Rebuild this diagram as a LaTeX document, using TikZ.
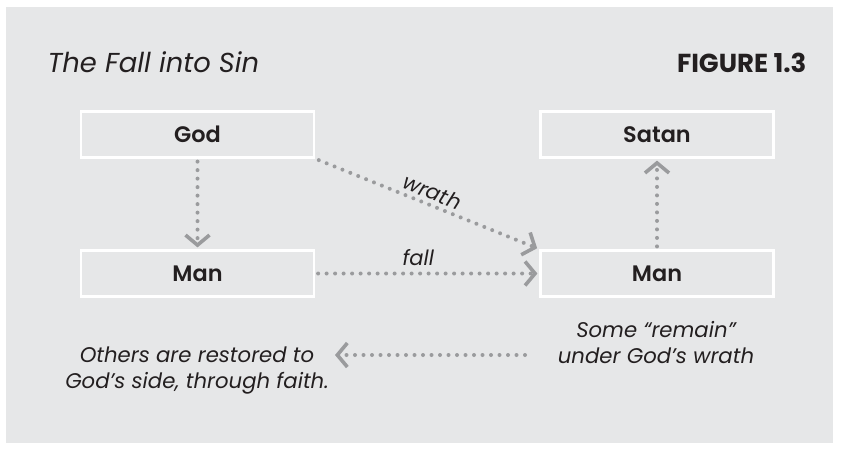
\documentclass[tikz,border=0pt]{standalone}
\usepackage{fontspec}
\setmainfont{Poppins}
\newfontfamily\boxfont{Poppins SemiBold}
\usetikzlibrary{arrows.meta}
\definecolor{panel}{HTML}{E6E7E8}
\definecolor{ink}{HTML}{231F20}
\definecolor{arr}{HTML}{9A9B9D}
\begin{document}
\begin{tikzpicture}[x=1pt,y=-1pt,
  box/.style={draw=white,line width=2.2pt,fill=panel,minimum width=233pt,minimum height=46pt,inner sep=0pt,
    font=\boxfont\fontsize{22.4}{26}\selectfont,text=ink},
  conn/.style={draw=arr,line width=4pt,line cap=round,dash pattern=on 0pt off 8.5pt,
    -{Straight Barb[length=10pt,width=24pt,line width=3.6pt]},shorten >=2pt,shorten <=3pt},
  lbl/.style={font=\itshape\fontsize{21}{24}\selectfont,text=ink},
  note/.style={font=\itshape\fontsize{21.2}{26}\selectfont,text=ink,align=center}]
\useasboundingbox (0,0) rectangle (841,450);
\fill[white] (0,0) rectangle (841,450);
\fill[panel] (6,7) rectangle (833,443);
\node[anchor=base west,font=\itshape\fontsize{27.4}{30}\selectfont,text=ink] (title) at (44,72) {The Fall into Sin};
\node[anchor=base east,font=\bfseries\fontsize{26}{30}\selectfont,text=ink] (fig) at (810,72) {FIGURE 1.3};
\node[box] (god) at (197.5,134.5) {God};
\node[box] (man1) at (197.5,273.5) {Man};
\node[box] (satan) at (657,134.5) {Satan};
\node[box] (man2) at (657,273.5) {Man};
\node[note,anchor=base] (others) at (197,388) {Others are restored to\\God’s side, through faith.};
\node[note,anchor=base] (some) at (656,363) {Some “remain”\\under God’s wrath};
\coordinate (w1) at (316,159);
\coordinate (w2) at (539,249);
\coordinate (b1) at (528,355);
\coordinate (b2) at (333,355);
\draw[conn] (god.south) -- (man1.north);
\draw[conn] (man2.north) -- (satan.south);
\draw[conn] (w1) -- node[lbl,sloped,above=0pt] {wrath} (w2);
\draw[conn] (man1.east) -- node[lbl,above=2pt,pos=0.46] {fall} (man2.west);
\draw[conn] (b1) -- (b2);
\end{tikzpicture}
\end{document}
